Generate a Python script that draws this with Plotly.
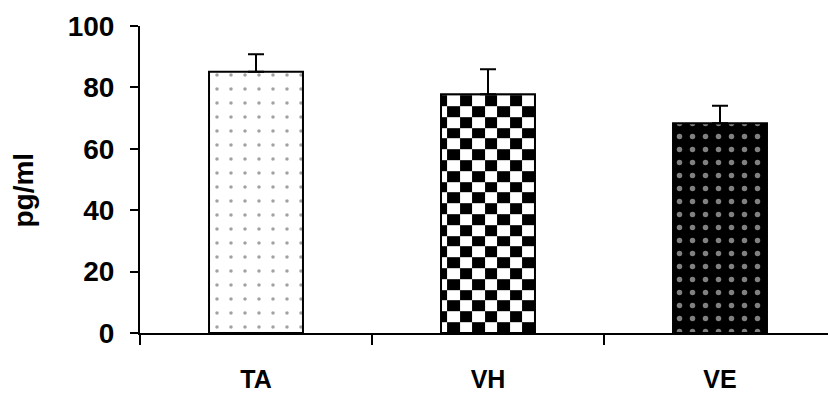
import math
import plotly.graph_objects as go

# Group means and upper standard errors (pg/ml)
groups = ["TA", "VH", "VE"]
means = [85.1, 77.8, 68.3]
errors = [5.7, 8.1, 5.7]
y_ticks = [0, 20, 40, 60, 80, 100]

FONT = dict(family="Liberation Sans, Arial, sans-serif", size=28, color="black", weight="bold")
CAT_FONT = dict(FONT, size=25)
BAR_WIDTH = 0.405
X_MIN, X_MAX = -0.5, 2.4655
CELL_W = 0.0539   # checker cell width (x units)
CELL_H = 3.52     # checker cell height (y units)

x_pos = list(range(len(groups)))

fig = go.Figure()

# Checkerboard fill for the VH bar, built from that bar's extent
vh = groups.index("VH")
left, right = vh - BAR_WIDTH / 2, vh + BAR_WIDTH / 2
x_edges = [right]
while x_edges[-1] - CELL_W > left:
    x_edges.append(x_edges[-1] - CELL_W)
x_edges.append(left)
x_edges = x_edges[::-1]
n_rows = math.ceil(means[vh] / CELL_H)
y_edges = [min(i * CELL_H, means[vh]) for i in range(n_rows + 1)]
ncols = len(x_edges) - 1
z = [[(r + c) % 2 for c in range(ncols)] for r in range(n_rows)]
fig.add_trace(go.Heatmap(
    x=x_edges, y=y_edges, z=z,
    colorscale=[[0, "white"], [1, "black"]], zmin=0, zmax=1,
    showscale=False, hoverinfo="skip",
))

fig.add_trace(go.Bar(
    x=x_pos, y=means, width=BAR_WIDTH,
    marker=dict(
        color=["white", "rgba(0,0,0,0)", "black"],
        line=dict(color="black", width=2),
        pattern=dict(
            shape=[".", "", "."],
            fgcolor=["black", "black", "white"],
            bgcolor=["white", "rgba(0,0,0,0)", "black"],
            size=[14, 14, 13],
            solidity=[0.05, 0.02, 0.14],
        ),
    ),
    error_y=dict(type="data", symmetric=False, array=errors,
                 arrayminus=[0] * len(errors),
                 color="black", thickness=2, width=8),
    hoverinfo="skip",
))

fig.update_layout(
    width=828, height=393,
    margin=dict(l=140, r=0, t=26, b=60, autoexpand=False),
    paper_bgcolor="white", plot_bgcolor="white",
    showlegend=False,
    font=FONT,
    xaxis=dict(
        range=[X_MIN, X_MAX], tickmode="array", tickvals=x_pos, ticktext=groups,
        ticks="", showline=True, linecolor="black", linewidth=2,
        showgrid=False, zeroline=False, ticklabelstandoff=23,
        minor=dict(tickmode="array", tickvals=[p - 0.5 for p in x_pos],
                   ticks="outside", ticklen=10, tickwidth=2, tickcolor="black",
                   showgrid=False),
        tickfont=CAT_FONT, automargin=False,
    ),
    yaxis=dict(
        range=[0, 100], tickmode="array", tickvals=y_ticks,
        ticks="outside", ticklen=8, tickwidth=2, tickcolor="black",
        showline=True, linecolor="black", linewidth=2,
        showgrid=False, zeroline=False, ticklabelstandoff=10,
        tickfont=FONT, automargin=False,
    ),
    annotations=[dict(
        text="pg/ml", textangle=-90, showarrow=False,
        xref="paper", yref="paper", x=-0.1686, y=0.464,
        xanchor="center", yanchor="middle",
        font=dict(family="Liberation Sans, Arial, sans-serif", size=28,
                  color="black", weight="bold"),
    )],
)

fig.write_html("out.html")
